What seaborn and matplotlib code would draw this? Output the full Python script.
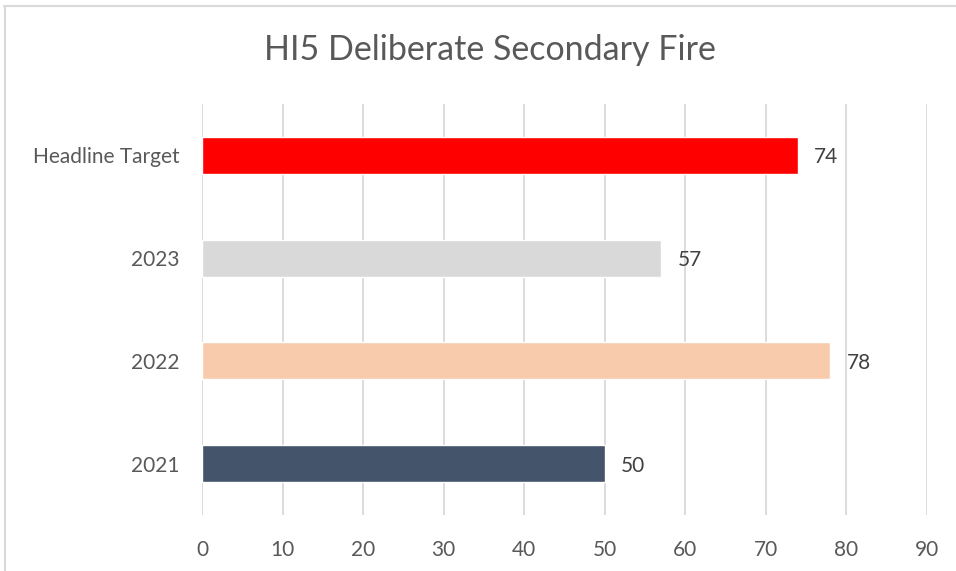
import matplotlib
matplotlib.use("Agg")
import matplotlib.pyplot as plt
import seaborn as sns
import pandas as pd

# chart data
categories = ["Headline Target", "2023", "2022", "2021"]
values = [74, 57, 78, 50]
bar_colors = ["#FF0000", "#D9D9D9", "#F8CBAD", "#44546A"]
x_ticks = [0, 10, 20, 30, 40, 50, 60, 70, 80, 90]

sns.set_theme(style="white")
plt.rcParams["font.family"] = ["Lato", "DejaVu Sans"]

df = pd.DataFrame({"category": categories, "value": values})

fig = plt.figure(figsize=(9.56, 5.71), dpi=100)
ax = fig.add_axes([0.2113, 0.098, 0.7584, 0.7199])

sns.barplot(data=df, x="value", y="category", hue="category",
            palette=bar_colors, order=categories, width=0.36,
            saturation=1, legend=False, ax=ax, zorder=3)

ax.set_xlim(0, 90)
ax.set_ylim(3.5, -0.5)
ax.set_xticks(x_ticks)
ax.xaxis.grid(True, color="#D9D9D9", linewidth=1.3, zorder=0)
ax.yaxis.grid(False)
for s in ax.spines.values():
    s.set_visible(False)
ax.tick_params(axis="x", length=0, pad=18, labelsize=15, colors="#595959")
ax.tick_params(axis="y", length=0, pad=16, labelsize=15, colors="#595959")
ax.set_xlabel("")
ax.set_ylabel("")

# value labels
for i, v in enumerate(values):
    ax.text(v + 2.0, i + 0.02, str(v), va="center", ha="left", fontsize=15, color="#404040")

fig.suptitle("HI5 Deliberate Secondary Fire", x=0.513, y=0.94, fontsize=24.5, color="#595959")

# chart frame (top and left edges visible in the reference)
fig.add_artist(plt.Line2D([0.004, 1.0], [0.99, 0.99], color="#D9D9D9", linewidth=1.5, transform=fig.transFigure))
fig.add_artist(plt.Line2D([0.005, 0.005], [0.0, 0.99], color="#D9D9D9", linewidth=1.5, transform=fig.transFigure))

fig.savefig("out.png", dpi=100, facecolor="white")
